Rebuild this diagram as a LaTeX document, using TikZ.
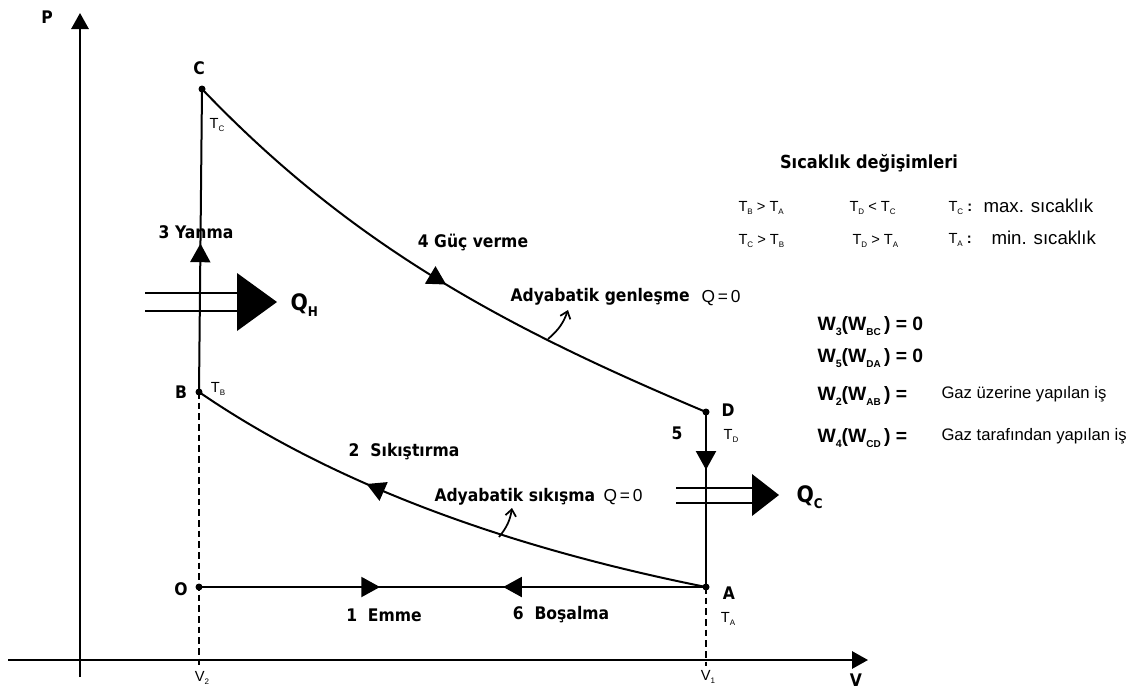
\documentclass[tikz,border=0pt]{standalone}
\usepackage{fontspec}
\setmainfont{Liberation Sans}
\newfontfamily\vfont[FakeStretch=0.9]{DejaVu Sans}
\usetikzlibrary{arrows.meta,decorations.markings}
\newcommand{\lowidx}[2][6]{\raisebox{-0.45ex}{\fontsize{#1}{#1}\selectfont #2}}

\tikzset{every picture/.style={line width=0.75pt}}

\begin{document}
\begin{tikzpicture}[x=0.75pt,y=0.75pt,yscale=-1,xscale=1,
  axis/.style={line width=1.5,-{Triangle[length=12pt,width=13pt]}},
  curve/.style={line width=1.5},
  midarrow/.style={postaction={decorate},decoration={markings,mark=at position #1 with {\arrow{Triangle[length=14pt,width=15pt]}}}},
  twoway/.style={postaction={decorate},decoration={markings,
    mark=at position 0.357 with {\arrow{Triangle[length=14pt,width=15pt]}},
    mark=at position 0.6 with {\arrowreversed{Triangle[length=14pt,width=15pt]}}}},
  heat/.style={line width=1.5},
  guide/.style={line width=1.1,dash pattern=on 5pt off 3pt},
  lbl/.style={inner sep=0.75pt,font=\vfont\bfseries\fontsize{13}{15}\selectfont},
  small/.style={inner sep=0.75pt,font=\fontsize{11}{13}\selectfont},
  plain/.style={inner sep=0.75pt,font=\fontsize{13}{15}\selectfont},
  weq/.style={inner sep=0.75pt,anchor=west,font=\bfseries\fontsize{14.5}{16}\selectfont},
  bentarrow/.style={line width=1.3,-{Straight Barb[length=5pt,width=8pt]}}
]
\useasboundingbox (0,0) rectangle (1146,690);

%Shape: Axis 2D
\coordinate (Pbot) at (80,677);
\coordinate (Ptop) at (80,13);
\coordinate (Vleft) at (8,660);
\coordinate (Vright) at (868,660);
\draw[axis] (Pbot) -- (Ptop);
\draw[axis] (Vleft) -- (Vright);

% cycle corners
\coordinate (C) at (202,89);
\coordinate (B) at (199,392);
\coordinate (D) at (706,412);
\coordinate (A) at (706,587);
\coordinate (O) at (199,587);
\coordinate (V2) at (199,666);
\coordinate (V1) at (706,666);

%Straight Lines (dashed)
\draw[guide] (B) -- (V2);
\draw[guide] (A) -- (V1);

%Straight Lines
\draw[curve,midarrow=0.49] (B) -- (C);
\draw[curve,midarrow=0.33] (D) -- (A);
\draw[curve,twoway] (O) -- (A);
%Curve Lines
\draw[curve,midarrow=0.52] (C) .. controls +(150,157) and +(-200,-84) .. (D);
\draw[curve,midarrow=0.65] (A) .. controls +(-170,-34) and +(150,103) .. (B);

%Shape: Circle
\foreach \p in {C,B,D,A,O} \fill (\p) circle[radius=3.5];

%Heat arrows
\draw[heat] (145,293) -- (238,293) (145,311) -- (238,311);
\fill (237,273) -- (277,302) -- (237,331) -- cycle;
\draw[heat] (676,488) -- (752,488) (676,503) -- (752,503);
\fill (752,474) -- (779,495) -- (752,516) -- cycle;

%Small bent arrows
\coordinate (gfoot) at (548,339);
\coordinate (ghead) at (568,310);
\coordinate (sfoot) at (499,537);
\coordinate (shead) at (512,508);
\draw[bentarrow] (gfoot) to[bend left=15] (ghead);
\draw[bentarrow] (sfoot) to[bend left=15] (shead);

% Text Node
\node[lbl] (Plbl) at (47,17) {P};
\node[lbl] (Vlbl) at (856,680) {V};
\node[lbl] (Clbl) at (199,68) {C};
\node[lbl] (Blbl) at (181,392) {B};
\node[lbl] (Dlbl) at (728,410) {D};
\node[lbl] (Albl) at (729,593) {A};
\node[lbl] (Olbl) at (181,589) {O};
% Text Node
\node[small] (TC) at (217,125) {T\lowidx{C}};
\node[small] (TB) at (218,389) {T\lowidx{B}};
\node[small] (TD) at (731,436) {T\lowidx{D}};
\node[small] (TA) at (728,619) {T\lowidx{A}};
\node[small] (V2lbl) at (202,678) {V\lowidx{2}};
\node[small] (V1lbl) at (708,677) {V\lowidx{1}};
% Text Node
\node[lbl] (yanma) at (196,232) {3 Yanma};
\node[lbl] (guc) at (473,242) {4 Güç verme};
\node[lbl] (sikis) at (404,452) {2\ \ Sıkıştırma};
\node[lbl] (bes) at (677,433) {5};
\node[lbl] (emme) at (384,615) {1\ \ Emme};
\node[lbl] (bosal) at (561,615) {6\ \ Boşalma};
\node[lbl,anchor=west] (genl) at (509,297) {Adyabatik genleşme};
\node[plain,anchor=west] (genlq) at (700,298) {Q\,=\,0};
\node[lbl,anchor=west] (sikisma) at (433,497) {Adyabatik sıkışma};
\node[plain,anchor=west] (sikq) at (602,497) {Q\,=\,0};
\node[lbl,font=\vfont\bfseries\fontsize{17}{19}\selectfont,anchor=west] (QH) at (289,305) {Q\lowidx[10]{H}};
\node[lbl,font=\vfont\bfseries\fontsize{17}{19}\selectfont,anchor=west] (QC) at (795,497) {Q\lowidx[10]{C}};
% Text Node
\node[lbl,font=\vfont\bfseries\fontsize{13.5}{16}\selectfont] (title) at (869,163) {Sıcaklık değişimleri};
\node[small,anchor=west] (r1a) at (737,208) {T\lowidx{B} > T\lowidx{A}};
\node[small,anchor=west] (r1b) at (848,208) {T\lowidx{D} < T\lowidx{C}};
\node[small,anchor=west] (r1c) at (947,208) {T\lowidx{C} \textbf{:}};
\node[plain,anchor=west,font=\fontsize{14}{16}\selectfont] (r1d) at (982,206) {max. sıcaklık};
\node[small,anchor=west] (r2a) at (737,241) {T\lowidx{C} > T\lowidx{B}};
\node[small,anchor=west] (r2b) at (851,241) {T\lowidx{D} > T\lowidx{A}};
\node[small,anchor=west] (r2c) at (947,240) {T\lowidx{A} \textbf{:}};
\node[plain,anchor=west,font=\fontsize{14}{16}\selectfont] (r2d) at (990,238) {min. sıcaklık};
% Text Node
\node[weq] (w3) at (816,326) {W\lowidx[8]{3}(W\lowidx[7.5]{BC}\,) = 0};
\node[weq] (w5) at (816,358) {W\lowidx[8]{5}(W\lowidx[7.5]{DA}\,) = 0};
\node[weq] (w2) at (816,396) {W\lowidx[8]{2}(W\lowidx[7.5]{AB}\,) =};
\node[plain,anchor=west,font=\fontsize{12.5}{15}\selectfont] (w2t) at (940,394) {Gaz üzerine yapılan iş};
\node[weq] (w4) at (816,438) {W\lowidx[8]{4}(W\lowidx[7.5]{CD}\,) =};
\node[plain,anchor=west,font=\fontsize{12.5}{15}\selectfont] (w4t) at (940,436) {Gaz tarafından yapılan iş};

\end{tikzpicture}
\end{document}
